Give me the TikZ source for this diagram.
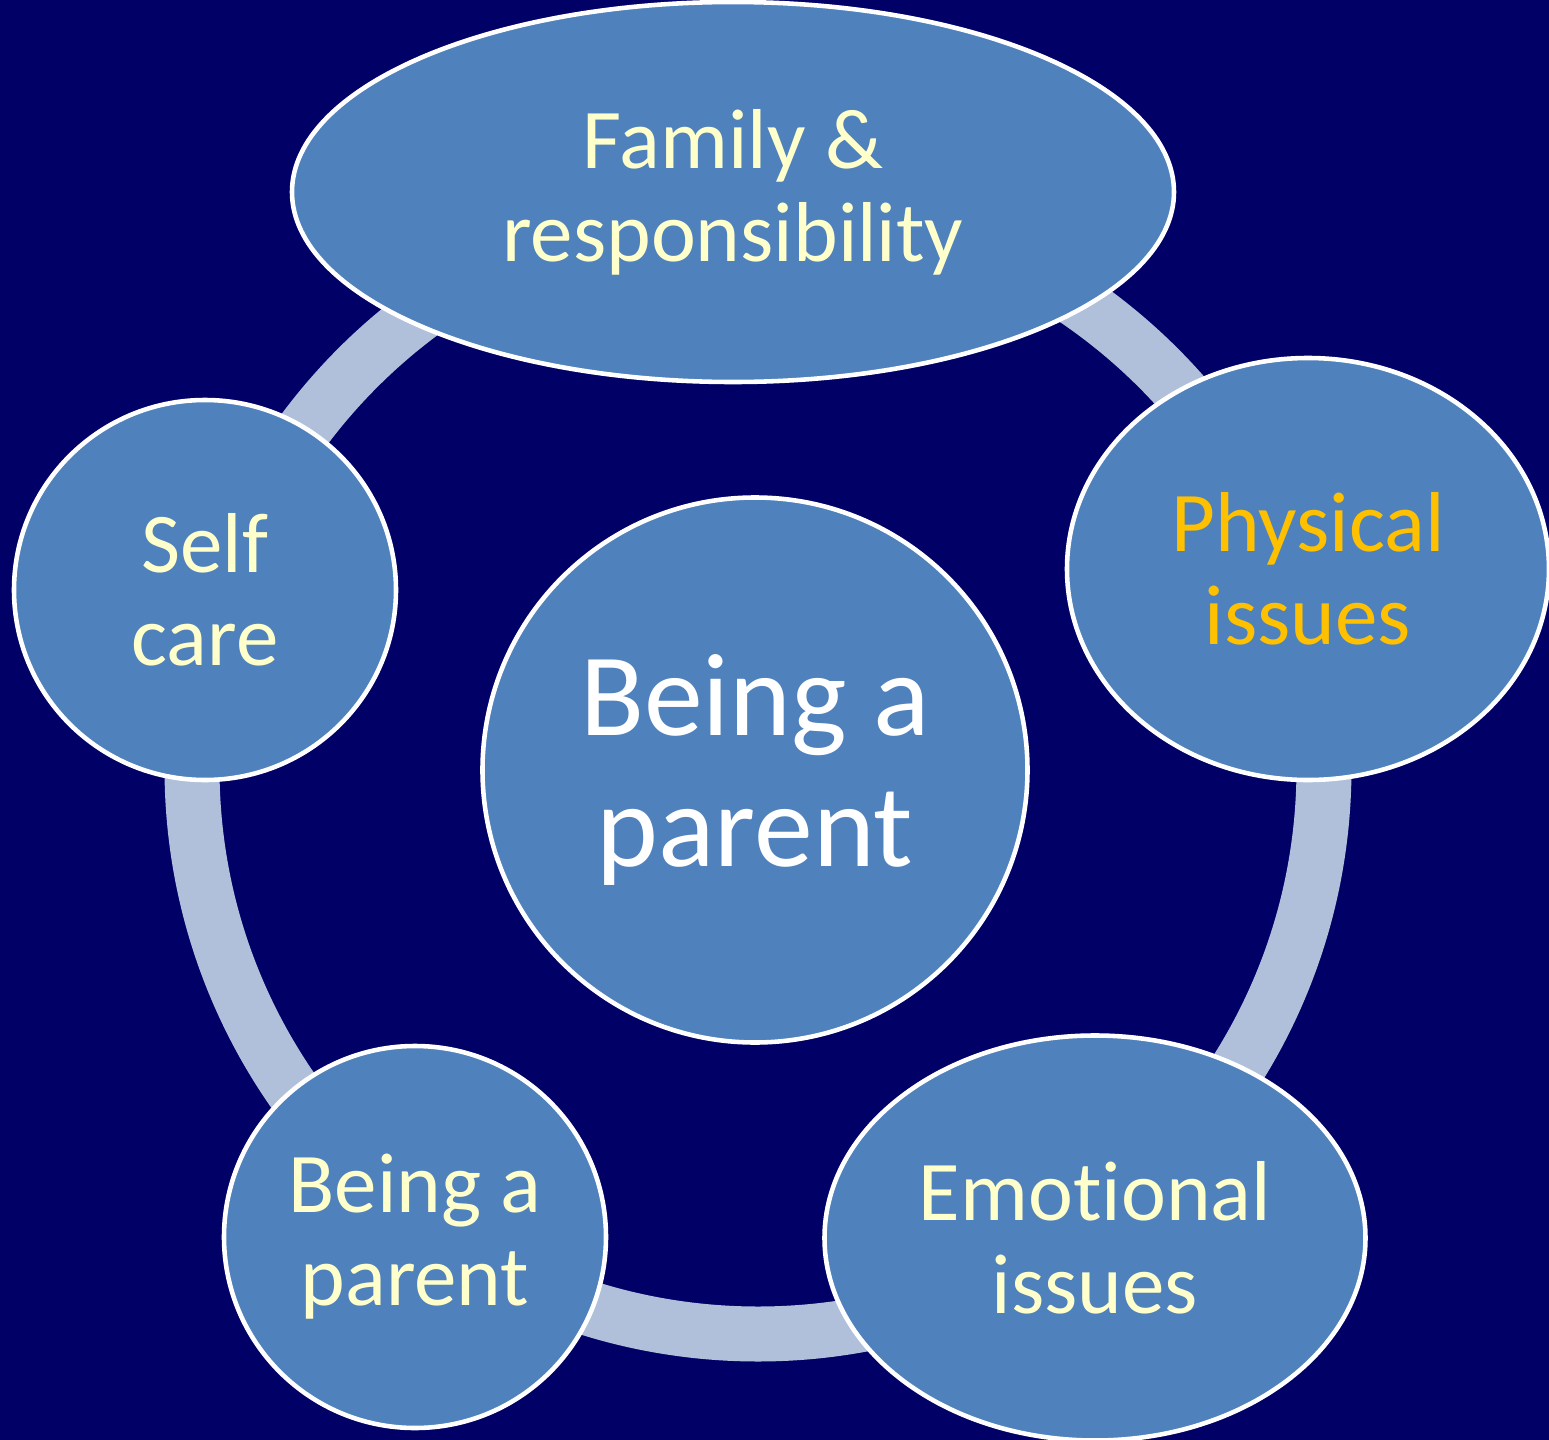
\documentclass[tikz,border=0pt]{standalone}
\usepackage{fontspec}
\setmainfont[Ligatures=NoCommon]{Carlito}
\usetikzlibrary{shapes.geometric}
\definecolor{navy}{HTML}{000066}
\definecolor{cellblue}{HTML}{4F81BD}
\definecolor{ringgrey}{HTML}{B0C0DB}
\definecolor{paleyellow}{HTML}{FFFFCC}
\definecolor{gold}{HTML}{FFC000}
\tikzstyle{ring} = [draw=ringgrey, line width=0.55cm]
\tikzstyle{bubble} = [ellipse, draw=white, line width=1.3pt, fill=cellblue, inner sep=0pt, align=center, text=paleyellow, font=\fontsize{24.2}{26.5}\selectfont]
\tikzstyle{hub} = [circle, draw=white, line width=1.3pt, fill=cellblue, inner sep=0pt, align=center, text=white, minimum size=5.45cm, font=\fontsize{33.5}{37.5}\selectfont]

\begin{document}
\begin{tikzpicture}
            \fill [navy] (0,0) rectangle (15.49,-14.40);
            \useasboundingbox (0,0) rectangle (15.49,-14.40);

            \coordinate (mid) at (7.58,-7.68);
            \draw [ring] (mid) circle (5.66);

            \node [hub] at (7.55,-7.70) (parent) {Being a\\parent};
            \node [bubble, minimum width=8.82cm, minimum height=3.80cm] at (7.33,-1.92) (family) {Family \&\\responsibility};
            \node [bubble, minimum width=4.82cm, minimum height=4.22cm, text=gold] at (13.08,-5.69) (physical) {Physical\\issues};
            \node [bubble, minimum width=5.41cm, minimum height=4.05cm] at (10.95,-12.38) (emotional) {Emotional\\issues};
            \node [bubble, minimum width=3.82cm, minimum height=3.82cm] at (4.15,-12.37) (being) {Being a\\parent};
            \node [bubble, minimum width=3.82cm, minimum height=3.80cm] at (2.05,-5.90) (self) {Self\\care};
\end{tikzpicture}
\end{document}
